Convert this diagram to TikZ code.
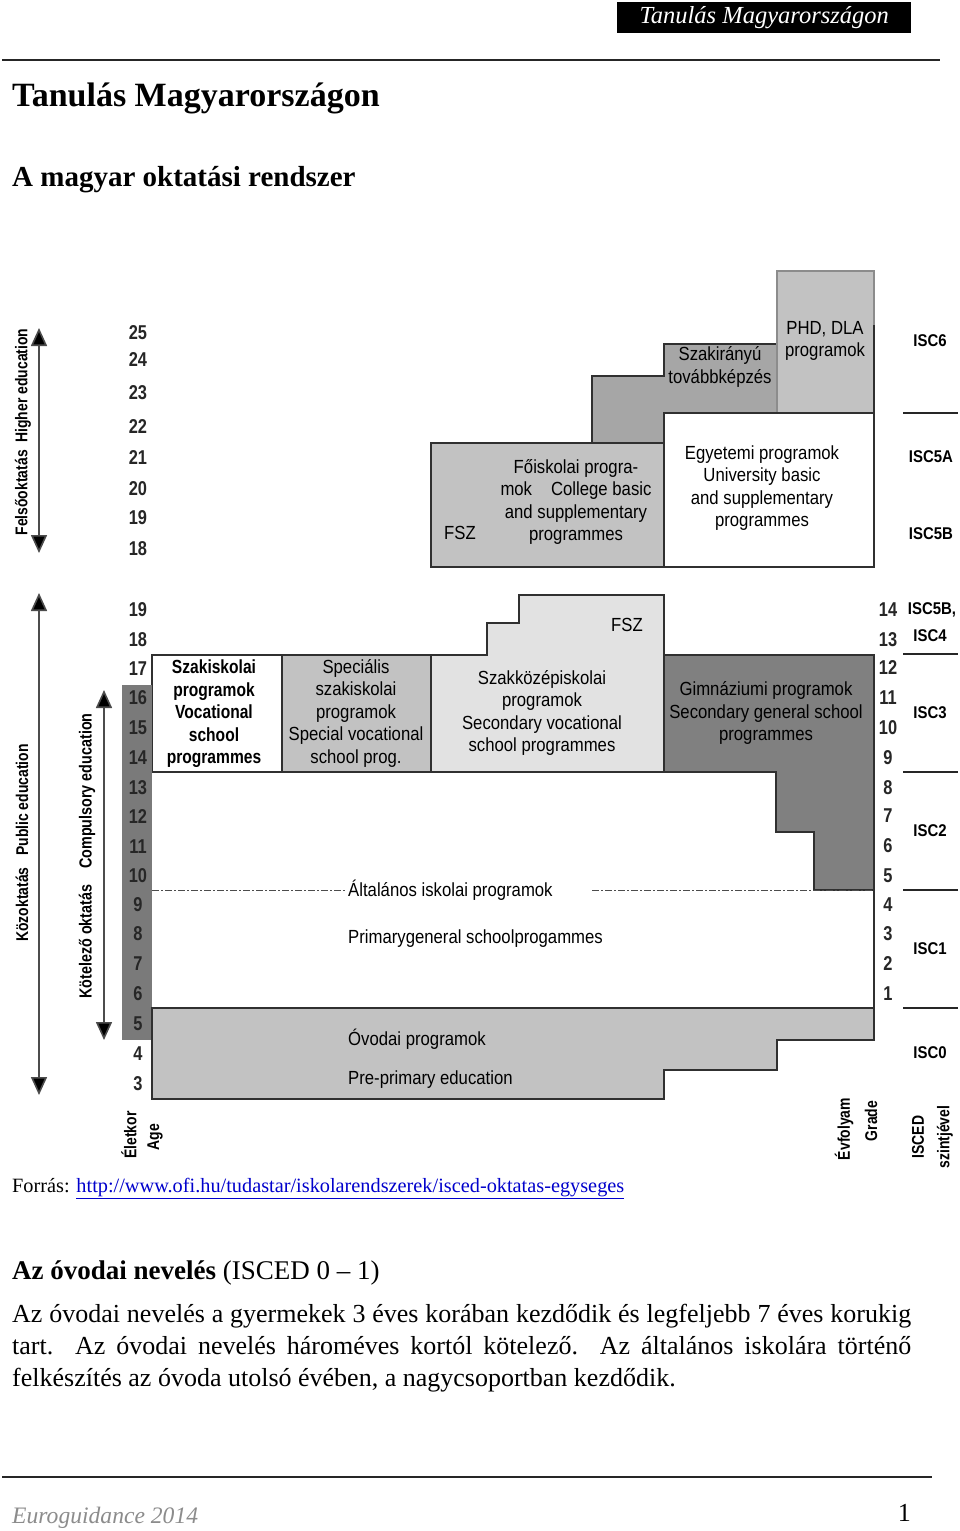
\documentclass[tikz,border=0pt]{standalone}
\usepackage{fontspec}
\setmainfont{Liberation Serif}
\newfontfamily\pagefont{Liberation Serif}
\newfontfamily\dgfont[FakeStretch=0.88]{Liberation Sans}
\newfontfamily\dgnarrow[FakeStretch=0.82]{Liberation Sans}
\usetikzlibrary{arrows.meta}
\definecolor{gC}{HTML}{C2C2C2}
\definecolor{gM}{HTML}{A6A6A6}
\definecolor{gD}{HTML}{808080}
\definecolor{gL}{HTML}{E2E2E2}
\definecolor{bd}{HTML}{303030}
\definecolor{lnk}{HTML}{0000CC}
\definecolor{foot}{HTML}{8C8C8C}
\tikzset{
  box/.style={draw=bd, line width=1.4pt, line join=miter},
  dg/.style={inner sep=0pt, align=center, font=\dgfont\fontsize{19}{22.5}\selectfont},
  num/.style={inner sep=0pt, font=\dgnarrow\fontsize{20}{22}\selectfont\bfseries, text=black!85},
  isc/.style={inner sep=0pt, font=\dgfont\fontsize{17}{19}\selectfont\bfseries},
  vlab/.style={inner sep=0pt, rotate=90, font=\dgnarrow\fontsize{17}{19}\selectfont\bfseries},
  arr/.style={line width=1.6pt, draw=black!70, {Triangle[width=16pt,length=18pt,fill=black]}-{Triangle[width=16pt,length=18pt,fill=black]}},
  rule/.style={line width=2pt, draw=black!85},
  pg/.style={inner sep=0pt, anchor=base west, font=\pagefont\fontsize{26}{30}\selectfont}
}
\begin{document}
\begin{tikzpicture}[x=1pt,y=-1pt]
\useasboundingbox (0,0) rectangle (960,1531);
\fill[white] (0,0) rectangle (960,1531);

% ---------- page header ----------
\node[fill=black, text=white, minimum width=294pt, minimum height=31pt, inner sep=0pt, anchor=north west,
      font=\pagefont\fontsize{24.5}{26}\selectfont\itshape] (hdr) at (617,2) {Tanulás Magyarországon};
\coordinate (hl1) at (2,60); \coordinate (hl2) at (940,60);
\draw[rule] (hl1) -- (hl2);
\node[pg, font=\pagefont\fontsize{34}{38}\selectfont\bfseries] (title) at (12,106) {Tanulás Magyarországon};
\node[pg, font=\pagefont\fontsize{29}{32}\selectfont\bfseries] (subtitle) at (12,186) {A magyar oktatási rendszer};

% ---------- higher education ----------
\filldraw[box, fill=gC] (431,443) rectangle (664,567);
\filldraw[box, fill=gM] (592,443) -- (592,376) -- (664,376) -- (664,344) -- (777,344) -- (777,413) -- (664,413) -- (664,443) -- cycle;
\filldraw[box, fill=gC, draw=black!45] (777,271) rectangle (874,413);
\filldraw[box, fill=white] (664,413) rectangle (874,567);
\draw[box] (874,325) -- (874,567);

\node[dg] (fsz1) at (460,533) {FSZ};
\node[dg] (foisk) at (576,502) {Főiskolai progra-\\mok\quad College basic\\and supplementary\\programmes};
\node[dg] (szakir) at (720,367) {Szakirányú\\továbbképzés};
\node[dg] (phd) at (825,341) {PHD, DLA\\programok};
\node[dg] (egyet) at (762,488) {Egyetemi programok\\University basic\\and supplementary\\programmes};

% ---------- secondary row ----------
\filldraw[box, fill=white] (152,655) rectangle (282,772);
\filldraw[box, fill=gC] (282,655) rectangle (431,772);
\filldraw[box, fill=gL] (431,772) -- (431,655) -- (487,655) -- (487,623) -- (519,623) -- (519,595) -- (664,595) -- (664,772) -- cycle;
\filldraw[box, fill=gD] (664,655) -- (874,655) -- (874,890) -- (814,890) -- (814,832) -- (776,832) -- (776,772) -- (664,772) -- cycle;
\fill[gD!95!black] (122,685) rectangle (152,1040);

\node[dg, font=\dgnarrow\fontsize{19}{22.5}\selectfont\bfseries] (szakisk) at (214,714) {Szakiskolai\\programok\\Vocational\\school\\programmes};
\node[dg] (spec) at (356,713) {Speciális\\szakiskolai\\programok\\Special vocational\\school prog.};
\node[dg] (fsz2) at (627,625) {FSZ};
\node[dg] (szakkoz) at (542,713) {Szakközépiskolai\\programok\\Secondary vocational\\school programmes};
\node[dg] (gimn) at (766,713) {Gimnáziumi programok\\Secondary general school\\programmes};

% ---------- primary and pre-primary ----------
\draw[box] (874,890) -- (874,1040);
\filldraw[box, fill=gC] (152,1008) -- (874,1008) -- (874,1040) -- (777,1040) -- (777,1070) -- (664,1070) -- (664,1099) -- (152,1099) -- cycle;
\node[dg, anchor=west] (altal) at (348,890) {Általános iskolai programok};
\coordinate (d1) at (152,890); \coordinate (d2) at (345,890);
\coordinate (d3) at (592,890); \coordinate (d4) at (874,890);
\draw[black!70, line width=0.8pt, dash pattern=on 7pt off 2pt on 2pt off 2pt] (d1) -- (d2) (d3) -- (d4);
\node[dg, anchor=west] (primary) at (348,939) {Primarygeneral schoolprogammes};
\node[dg, anchor=west] (ovodai) at (348,1039) {Óvodai programok};
\node[dg, anchor=west] (preprim) at (348,1080) {Pre-primary education};

% ---------- arrows ----------
\coordinate (ha) at (39,328); \coordinate (hb) at (39,553);
\coordinate (pa) at (39,593); \coordinate (pb) at (39,1095);
\coordinate (ca) at (104,690); \coordinate (cb) at (104,1040);
\draw[arr] (ha) -- (hb);
\draw[arr] (pa) -- (pb);
\draw[arr] (ca) -- (cb);
\node[vlab] (vhigh) at (23,432) {Felsőoktatás\ \ Higher education};
\node[vlab] (vpub) at (22,843) {Közoktatás\ \ \ Public education};
\node[vlab, font=\dgnarrow\fontsize{17.5}{19}\selectfont\bfseries] (vcomp) at (87,856) {Kötelező oktatás\ \ \ \ Compulsory education};

% ---------- ages ----------
\foreach \a/\y in {25/333,24/360,23/393,22/427,21/458,20/489,19/518,18/549}
  \node[num] (u\a) at (138,\y) {\a};
\foreach \a/\y in {19/610,18/640,17/669,16/698,15/728,14/758,13/788,12/817,11/847,10/876,9/905,8/934,7/964,6/994,5/1024,4/1054,3/1084}
  \node[num] (l\a) at (138,\y) {\a};
\foreach \g/\y in {14/610,13/640,12/668,11/698,10/728,9/758,8/788,7/816,6/846,5/876,4/905,3/934,2/964,1/994}
  \node[num] (g\g) at (888,\y) {\g};

% ---------- ISCED column ----------
\foreach \y [count=\i] in {413,654,772,890,1008} {
  \coordinate (il\i a) at (903,\y); \coordinate (il\i b) at (958,\y);
  \draw[line width=2pt, black!85] (il\i a) -- (il\i b);
}
\node[isc] (i6) at (930,341) {ISC6};
\node[isc] (i5a) at (931,457) {ISC5A};
\node[isc] (i5b) at (931,534) {ISC5B};
\node[isc] (i5b2) at (932,610) {ISC5B,};
\node[isc] (i4) at (930,636) {ISC4};
\node[isc] (i3) at (930,713) {ISC3};
\node[isc] (i2) at (930,831) {ISC2};
\node[isc] (i1) at (930,949) {ISC1};
\node[isc] (i0) at (930,1053) {ISC0};

% ---------- axis captions ----------
\node[vlab] (eletkor) at (129,1135) {Életkor};
\node[vlab] (age) at (155,1137) {Age};
\node[vlab] (evf) at (844,1129) {Évfolyam};
\node[vlab] (grade) at (871,1121) {Grade};
\node[vlab] (isced) at (918,1137) {ISCED};
\node[vlab] (szint) at (945,1137) {szintjével};

% ---------- text below ----------
\node[pg, font=\pagefont\fontsize{20.3}{22}\selectfont] (forras) at (12,1192)
  {Forrás: \textcolor{lnk}{\underline{http://www.ofi.hu/tudastar/iskolarendszerek/isced-oktatas-egyseges}}};
\node[pg, font=\pagefont\fontsize{27}{30}\selectfont] (h2) at (12,1279) {\textbf{Az óvodai nevelés} (ISCED 0 – 1)};
\node[pg] (p1) at (12,1322) {\makebox[899pt][s]{Az óvodai nevelés a gyermekek 3 éves korában kezdődik és legfeljebb 7 éves korukig}};
\node[pg] (p2) at (12,1354) {\makebox[899pt][s]{tart. Az óvodai nevelés hároméves kortól kötelező. Az általános iskolára történő}};
\node[pg] (p3) at (12,1386) {felkészítés az óvoda utolsó évében, a nagycsoportban kezdődik.};

% ---------- footer ----------
\coordinate (fl1) at (2,1477); \coordinate (fl2) at (932,1477);
\draw[rule] (fl1) -- (fl2);
\node[pg, font=\pagefont\fontsize{23.6}{27}\selectfont\itshape, text=foot] (foot) at (12,1523) {Euroguidance 2014};
\node[pg, anchor=base east] (pnum) at (911,1521) {1};
\end{tikzpicture}
\end{document}
